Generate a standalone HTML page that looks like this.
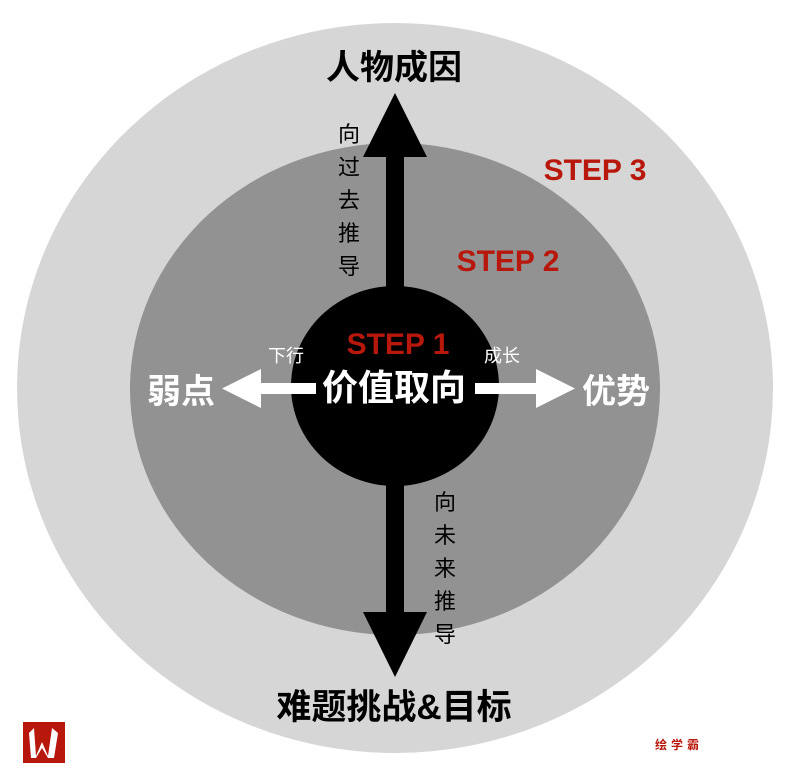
<!DOCTYPE html>
<html><head><meta charset="utf-8"><style>
html,body{margin:0;padding:0;background:#fff;}
svg{display:block;}
text{font-family:"Liberation Sans","Noto Sans CJK SC",sans-serif;}
</style></head><body>
<svg width="792" height="780" viewBox="0 0 792 780" xmlns="http://www.w3.org/2000/svg">
<ellipse cx="395" cy="388" rx="378" ry="365" fill="#d6d6d6"/>
<ellipse cx="395" cy="389" rx="265" ry="246" fill="#929292"/>
<rect x="386" y="150" width="18" height="140" fill="#000"/>
<polygon points="395,93 363,157 427,157" fill="#000"/>
<rect x="386" y="480" width="18" height="140" fill="#000"/>
<polygon points="395,677 363,612 427,612" fill="#000"/>
<ellipse cx="395" cy="386" rx="104" ry="100" fill="#000"/>
<rect x="255" y="383" width="61" height="11" fill="#fff"/>
<polygon points="222,388.5 261,369 261,408" fill="#fff"/>
<rect x="475" y="383" width="67" height="11" fill="#fff"/>
<polygon points="575,388.5 536,369 536,408" fill="#fff"/>
<text x="394" y="79" font-size="34" font-weight="bold" text-anchor="middle" fill="#000">人物成因</text>
<text x="595" y="180" font-size="30" font-weight="bold" text-anchor="middle" fill="#b8170c">STEP 3</text>
<text x="508" y="271" font-size="30" font-weight="bold" text-anchor="middle" fill="#b8170c">STEP 2</text>
<text x="398" y="354" font-size="30" font-weight="bold" text-anchor="middle" fill="#b8170c">STEP 1</text>
<text x="394" y="400" font-size="36" font-weight="bold" text-anchor="middle" fill="#fff">价值取向</text>
<text x="286" y="362" font-size="18" text-anchor="middle" fill="#fff">下行</text>
<text x="502" y="362" font-size="18" text-anchor="middle" fill="#fff">成长</text>
<text x="181" y="403" font-size="34" font-weight="bold" text-anchor="middle" fill="#fff">弱点</text>
<text x="616" y="403" font-size="34" font-weight="bold" text-anchor="middle" fill="#fff">优势</text>
<g font-size="22" fill="#000" text-anchor="middle">
<text x="349" y="142">向</text><text x="349" y="175">过</text><text x="349" y="208">去</text><text x="349" y="241">推</text><text x="349" y="274">导</text>
<text x="445" y="510">向</text><text x="445" y="543">未</text><text x="445" y="576">来</text><text x="445" y="609">推</text><text x="445" y="642">导</text>
</g>
<text x="394" y="719" font-size="35" font-weight="bold" text-anchor="middle" fill="#000">难题挑战&amp;目标</text>
<rect x="23" y="722" width="42" height="41" fill="#b8170c"/>
<polygon points="29,733 34,728 36,756 42,742 48,756 52,728 58,733 54,758 48,758 42,748 36,758 31,758" fill="#fff"/>
<text x="679" y="749" font-size="12" font-weight="bold" text-anchor="middle" fill="#b8170c" letter-spacing="4">绘学霸</text>
</svg>
</body></html>
